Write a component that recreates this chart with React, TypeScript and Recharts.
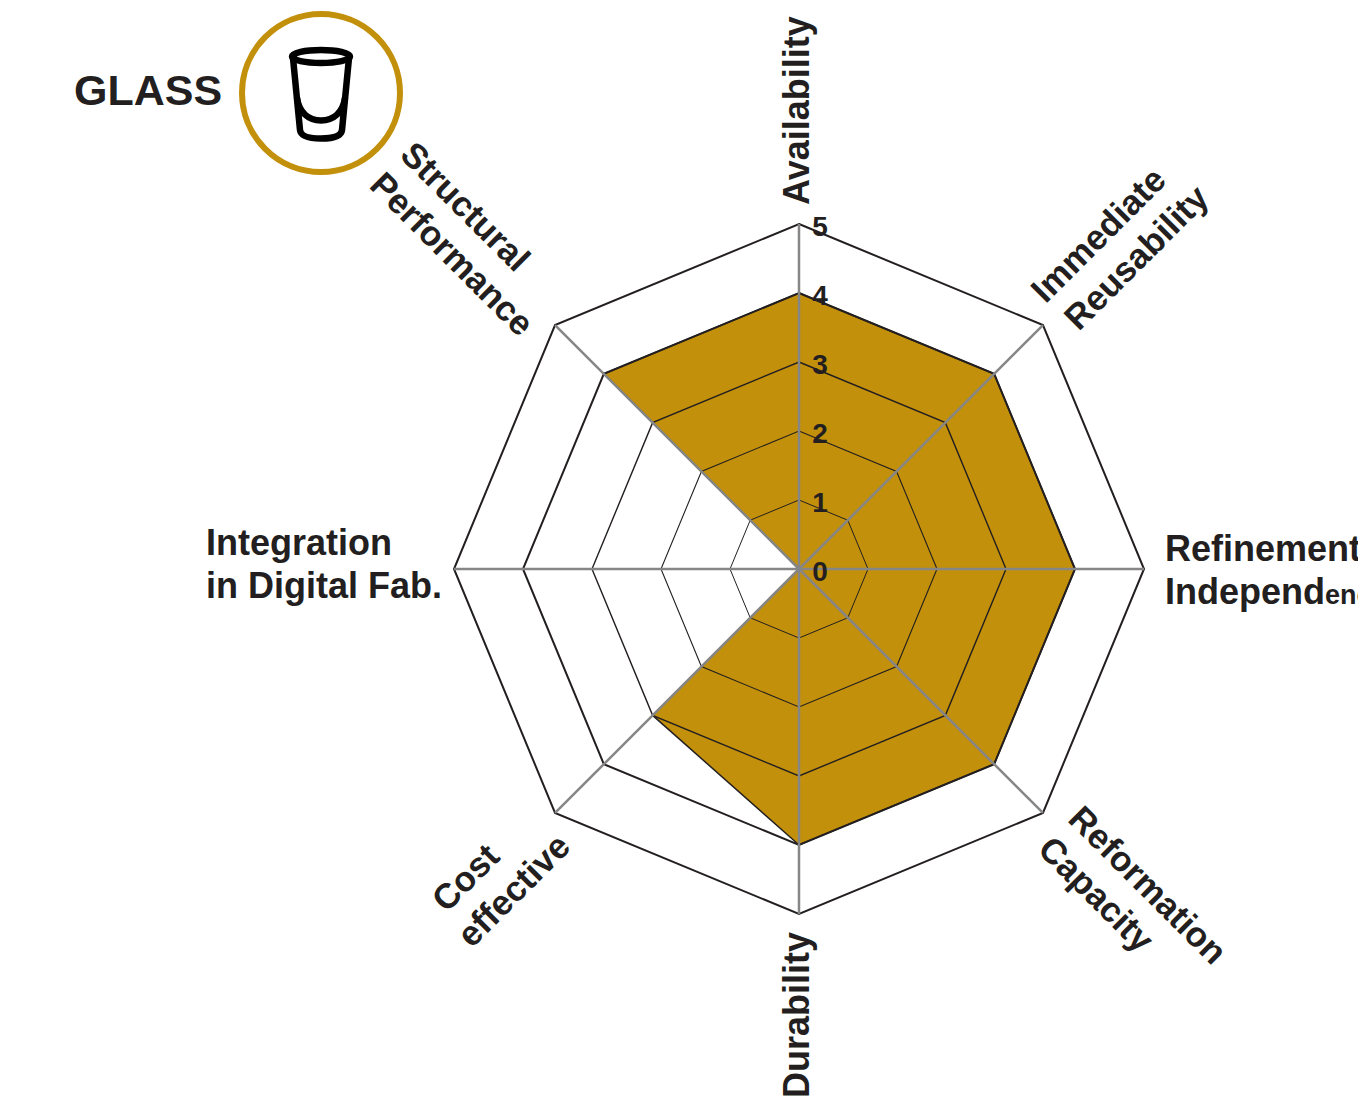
import { RadarChart, Radar, PolarAngleAxis, PolarRadiusAxis } from 'recharts'

const categories = [
  'Availability',
  'Immediate Reusability',
  'Refinement Independence',
  'Reformation Capacity',
  'Durability',
  'Cost effective',
  'Integration in Digital Fab.',
  'Structural Performance',
]
const glassValues = [4, 4, 4, 4, 4, 3, 0, 4]
const radiusTicks = [0, 1, 2, 3, 4, 5]
const ringValues = [1, 2, 3, 4, 5]
const spokeAngles = [90, 45, 0, -45, -90, -135, 180, 135]

const data = categories.map((name, i) => ({ name, glass: glassValues[i] }))

const INK = '#231f20'
const GOLD = '#c3900b'
const SPOKE = '#868686'
const FONT = '"Liberation Sans", Arial, sans-serif'
const OUTER = 345

// ring value -> stroke width, the outer rings are heavier
const ringWidth: Record<number, number> = { 1: 1, 2: 1.1, 3: 1.4, 4: 2, 5: 2 }

// label layout per category: lines, offset from the axis tick, rotation, size, second line nudge
const labelLayout: Record<string, { lines: string[]; dx: number; dy: number; rot: number; size: number; nudge?: number }> = {
  'Availability': { lines: ['Availability'], dx: 10, dy: -11, rot: -90, size: 36 },
  'Immediate Reusability': { lines: ['Immediate', 'Reusability'], dx: -3, dy: -15, rot: -45, size: 35, nudge: 4 },
  'Refinement Independence': { lines: ['Refinement', 'Independence'], dx: 13, dy: -8, rot: 0, size: 36 },
  'Reformation Capacity': { lines: ['Reformation', 'Capacity'], dx: 18, dy: 2, rot: 45, size: 35 },
  'Durability': { lines: ['Durability'], dx: 10, dy: 176, rot: -90, size: 36 },
  'Cost effective': { lines: ['Cost', 'effective'], dx: -103, dy: 95, rot: -45, size: 35, nudge: -7 },
  'Integration in Digital Fab.': { lines: ['Integration', 'in Digital Fab.'], dx: -240, dy: -14, rot: 0, size: 36 },
  'Structural Performance': { lines: ['Structural', 'Performance'], dx: -151, dy: -163, rot: 45, size: 35 },
}

function AngleTick({ x, y, payload }: any) {
  const l = labelLayout[payload.value]
  const px = x + l.dx
  const py = y + l.dy
  return (
    <text transform={`translate(${px} ${py}) rotate(${l.rot})`} fontFamily={FONT} fontWeight="bold" fontSize={l.size} fill={INK}>
      {l.lines.map((line, i) => (
        <tspan key={line} x={i === 1 ? l.nudge ?? 0 : 0} y={i * 43}>
          {line === 'Independence' ? (
            <>
              Independ<tspan fontSize={27}>ence</tspan>
            </>
          ) : (
            line
          )}
        </tspan>
      ))}
    </text>
  )
}

function RadiusTick({ x, y, payload }: any) {
  return (
    <text x={x + 21} y={y + 12} textAnchor="middle" fontFamily={FONT} fontWeight="bold" fontSize={28} fill={INK}>
      {payload.value}
    </text>
  )
}

function GlassBadge() {
  return (
    <svg width={1358} height={1115} style={{ position: 'absolute', left: 0, top: 0, pointerEvents: 'none' }}>
      <text x={74} y={105} fontFamily={FONT} fontWeight="bold" fontSize={43} fill={INK}>
        GLASS
      </text>
      <circle cx={321} cy={93} r={79} fill="none" stroke={GOLD} strokeWidth={6} />
      <g fill="none" stroke="#000" strokeWidth={6.5} strokeLinejoin="round">
        <ellipse cx={321} cy={56.5} rx={29} ry={6.5} />
        <path d="M293 58 L300 130 Q301 138.5 321 138.5 Q341 138.5 342 130 L349 58" />
        <path d="M297 98 C299 112 308 120.5 321 120.5 C334 120.5 343 112 345 98" />
      </g>
    </svg>
  )
}

export default function App() {
  return (
    <div style={{ position: 'absolute', left: 0, top: 0, width: 1358, height: 1115, overflow: 'hidden', background: '#fff' }}>
      <RadarChart width={1358} height={1115} data={data} cx={799} cy={569} outerRadius={OUTER} startAngle={90} endAngle={-270} margin={{ top: 0, right: 0, bottom: 0, left: 0 }}>
        <PolarAngleAxis dataKey="name" tick={AngleTick} tickLine={false} axisLine={false} />
        <PolarRadiusAxis angle={90} domain={[0, 5]} ticks={radiusTicks as any} tickCount={6} axisLine={false} tickLine={false} tick={false} />
        <Radar dataKey="glass" fill={GOLD} fillOpacity={1} stroke={INK} strokeWidth={1.5} isAnimationActive={false} dot={false} />
        {ringValues.map((v) => (
          <Radar key={v} name={`ring${v}`} dataKey={() => v} fill="none" stroke={INK} strokeWidth={ringWidth[v]} isAnimationActive={false} dot={false} />
        ))}
        {spokeAngles.map((a) => (
          <PolarRadiusAxis key={a} angle={a} domain={[0, 5]} ticks={radiusTicks as any} tickCount={6} axisLine={{ stroke: SPOKE, strokeWidth: 2.5 }} tickLine={false} tick={false} />
        ))}
        <PolarRadiusAxis angle={90} domain={[0, 5]} ticks={radiusTicks as any} tickCount={6} axisLine={false} tickLine={false} tick={RadiusTick} />
      </RadarChart>
      <GlassBadge />
    </div>
  )
}
